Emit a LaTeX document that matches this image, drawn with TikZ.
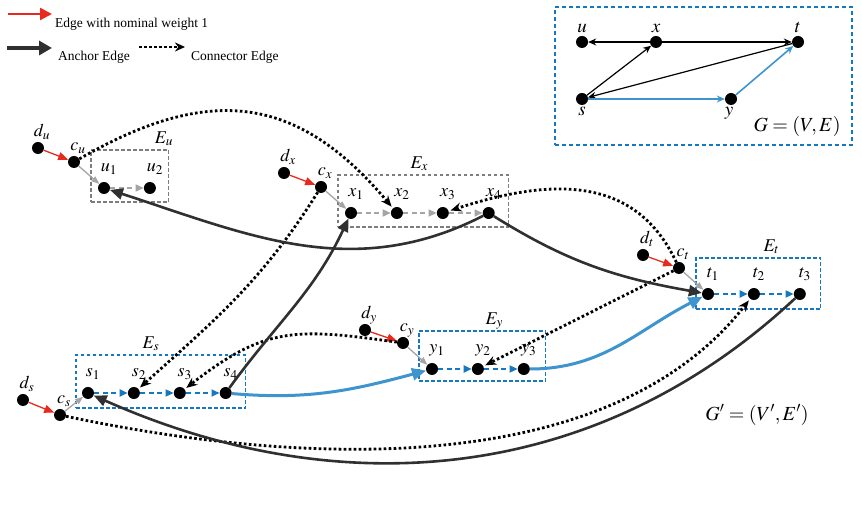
\documentclass[tikz,border=0pt]{standalone}
\usepackage{mathptmx}
\usepackage[no-math]{fontspec}
\setmainfont{Liberation Serif}
\usetikzlibrary{positioning,fit,backgrounds,calc,arrows.meta}

\definecolor{nomred}{RGB}{232,42,30}
\definecolor{chaingray}{RGB}{165,165,165}
\definecolor{boxgray}{RGB}{125,125,125}
\definecolor{pathblue}{RGB}{22,120,192}
\definecolor{thickblue}{RGB}{62,148,207}
\definecolor{anchorgray}{RGB}{48,48,48}

\tikzset{vdot/.style={circle,fill=black,inner sep=0pt,minimum size=12pt},
         nomedge/.style={draw=nomred,line width=1.3pt,-{Triangle[length=10pt,width=8pt]}},
         enteredge/.style={draw=chaingray,line width=1.3pt,-{Triangle[length=8pt,width=6pt]}},
         gchain/.style={draw=chaingray,line width=1.6pt,dash pattern=on 5pt off 3.5pt,
                        -{Triangle[length=8pt,width=7pt]}},
         bchain/.style={draw=pathblue,line width=1.8pt,dash pattern=on 5pt off 3.5pt,
                        -{Triangle[length=8pt,width=7pt]}},
         anchoredge/.style={draw=anchorgray,line width=2.6pt,-{Triangle[length=13pt,width=11pt]}},
         bluethick/.style={draw=thickblue,line width=3pt,-{Triangle[length=14pt,width=12pt]}},
         connedge/.style={draw=black,line width=2.8pt,dash pattern=on 2.6pt off 2.4pt,
                          -{Stealth[length=11pt,width=9pt]},shorten >=2pt},
         gbox/.style={draw=boxgray,line width=1.1pt,dash pattern=on 3.5pt off 2.5pt,inner sep=0pt},
         bbox/.style={draw=pathblue,line width=1.1pt,dash pattern=on 3.5pt off 2.5pt,inner sep=0pt},
         olab/.style={xshift=4pt,yshift=5pt},
         ilab/.style={xshift=5pt,yshift=10pt},
         elab/.style={yshift=6pt},
         legtxt/.style={anchor=west,inner sep=0pt,font=\fontsize{13.5}{15}\selectfont}}

\begin{document}
\begin{tikzpicture}[x=1pt,y=1pt,
every label/.append style={font=\fontsize{18}{18}\selectfont,inner sep=0pt,text depth=0pt}]
\useasboundingbox (0,0) rectangle (862,527);

% legend
\coordinate (lr1) at (8,513);
\coordinate (lr2) at (52,513);
\coordinate (la1) at (7,479);
\coordinate (la2) at (52,479);
\coordinate (lc1) at (139,480);
\coordinate (lc2) at (185,480);
\draw[nomedge,line width=2.4pt,-{Triangle[length=12pt,width=12pt]}] (lr1) -- (lr2);
\draw[anchoredge,line width=3.5pt,-{Triangle[length=13pt,width=14pt]}] (la1) -- (la2);
\draw[connedge,shorten >=0pt,-{Stealth[length=10pt,width=9pt]}] (lc1) -- (lc2);
\node[legtxt] (ltr) at (55,503) {Edge with nominal weight 1};
\node[legtxt] (lta) at (58,470) {Anchor Edge};
\node[legtxt] (ltc) at (191,470) {Connector Edge};

% original graph G
\node[vdot,label={[yshift=3pt,font=\fontsize{19}{19}\selectfont]above:$u$}] (u) at (582,485) {};
\node[vdot,label={[yshift=3pt,font=\fontsize{19}{19}\selectfont]above:$x$}] (x) at (656,485) {};
\node[vdot,label={[yshift=3pt,font=\fontsize{19}{19}\selectfont]above:$t$}] (t) at (798,485) {};
\node[vdot,label={[yshift=-2pt,font=\fontsize{19}{19}\selectfont]below:$s$}] (s) at (582,428) {};
\node[vdot,label={[yshift=-2pt,xshift=-2pt,font=\fontsize{19}{19}\selectfont]below:$y$}] (y) at (731,428) {};
\draw[draw=black,line width=1.2pt,-{Stealth[length=8pt,width=7pt]}] (x) -- (u);
\draw[draw=black,line width=1.2pt,-{Stealth[length=8pt,width=7pt]}] (x) -- (t);
\draw[draw=black,line width=1.2pt,-{Stealth[length=8pt,width=7pt]}] (s) -- (x);
\draw[draw=black,line width=1.2pt,-{Stealth[length=8pt,width=7pt]}] (t) -- (s);
\draw[draw=thickblue,line width=1.6pt,-{Stealth[length=8pt,width=7pt]}] (s) -- (y);
\draw[draw=thickblue,line width=1.6pt,-{Stealth[length=8pt,width=7pt]}] (y) -- (t);
\node[font=\fontsize{20}{22}\selectfont] (Gname) at (797,400) {$G=(V,E)$};
\node[bbox,line width=1.8pt,dash pattern=on 4pt off 3pt,fit={(555,382) (852,520)}] (Gbox) {};

% expanded graph G'
\node[vdot,label={[olab]above:$d_u$}] (du) at (38,379) {};
\node[vdot,label={[olab]above:$c_u$}] (cu) at (74,365) {};
\node[vdot,label={[ilab]above:$u_1$}] (u1) at (104,339) {};
\node[vdot,label={[ilab]above:$u_2$},right=33.5pt of u1] (u2) {};

\node[vdot,label={[olab]above:$d_x$}] (dx) at (284,354) {};
\node[vdot,label={[olab]above:$c_x$}] (cx) at (321,340) {};
\node[vdot,label={[ilab]above:$x_1$}] (x1) at (351,314) {};
\node[vdot,label={[ilab]above:$x_2$},right=33.5pt of x1] (x2) {};
\node[vdot,label={[ilab]above:$x_3$},right=33.5pt of x2] (x3) {};
\node[vdot,label={[ilab]above:$x_4$},right=33.5pt of x3] (x4) {};

\node[vdot,label={[olab]above:$d_t$}] (dt) at (643,272) {};
\node[vdot,label={[olab]above:$c_t$}] (ct) at (679,259) {};
\node[vdot,label={[ilab]above:$t_1$}] (t1) at (708,233) {};
\node[vdot,label={[ilab]above:$t_2$},right=33.5pt of t1] (t2) {};
\node[vdot,label={[ilab]above:$t_3$},right=33.5pt of t2] (t3) {};

\node[vdot,label={[olab]above:$d_y$}] (dy) at (365,197) {};
\node[vdot,label={[olab]above:$c_y$}] (cy) at (403,184) {};
\node[vdot,label={[ilab]above:$y_1$}] (y1) at (432,158) {};
\node[vdot,label={[ilab]above:$y_2$},right=33.5pt of y1] (y2) {};
\node[vdot,label={[ilab]above:$y_3$},right=33.5pt of y2] (y3) {};

\node[vdot,label={[olab]above:$d_s$}] (ds) at (23,127) {};
\node[vdot,label={[olab]above:$c_s$}] (cs) at (60,112) {};
\node[vdot,label={[ilab]above:$s_1$}] (s1) at (88,134) {};
\node[vdot,label={[ilab]above:$s_2$},right=33.5pt of s1] (s2) {};
\node[vdot,label={[ilab]above:$s_3$},right=33.5pt of s2] (s3) {};
\node[vdot,label={[ilab]above:$s_4$},right=33.5pt of s3] (s4) {};

\begin{scope}[on background layer]
\node[gbox,fit={($(u1)+(-13,38)$) ($(u2)+(19,-14)$)},label={[elab,xshift=34pt]above:$E_u$}] (Eu) {};
\node[gbox,fit={($(x1)+(-13,38)$) ($(x4)+(20,-14)$)},label={[elab,xshift=-4pt]above:$E_x$}] (Ex) {};
\node[bbox,fit={($(t1)+(-12,36)$) ($(t3)+(21,-15)$)},label={[elab,xshift=13pt]above:$E_t$}] (Et) {};
\node[bbox,fit={($(y1)+(-13,38)$) ($(y3)+(22,-12)$)},label={[elab,xshift=12pt]above:$E_y$}] (Ey) {};
\node[bbox,fit={($(s1)+(-12,38)$) ($(s4)+(20,-15)$)},label={[elab,xshift=-10pt]above:$E_s$}] (Es) {};
\end{scope}

\foreach \V in {u,x,t,y,s}
{\draw[nomedge] (d\V) -- (c\V);
 \draw[enteredge] (c\V) -- (\V1);}

\draw[gchain] (u1) -- (u2);
\draw[gchain] (x1) -- (x2);
\draw[gchain] (x2) -- (x3);
\draw[gchain] (x3) -- (x4);
\draw[bchain] (t1) -- (t2);
\draw[bchain] (t2) -- (t3);
\draw[bchain] (y1) -- (y2);
\draw[bchain] (y2) -- (y3);
\draw[bchain] (s1) -- (s2);
\draw[bchain] (s2) -- (s3);
\draw[bchain] (s3) -- (s4);

\draw[connedge] (cu) to[out=30,in=130,looseness=1.2] (x2);
\draw[connedge] (cx) to[out=238,in=42] (s2);
\draw[connedge] (ct) to[out=115,in=18,looseness=1.1] (x3);
\draw[connedge] (ct) -- (y2);
\draw[connedge] (cy) to[out=172,in=38,looseness=1.2] (s3);
\draw[connedge] (cs) to[out=-12,in=232,looseness=0.86] (t2);

\draw[anchoredge] (x4) to[out=207,in=-18] (u1);
\draw[anchoredge] (x4) to[out=-32,in=170] (t1);
\draw[anchoredge] (s4) to[out=54,in=245] (x1);
\draw[anchoredge] (t3) to[out=223,in=-24,looseness=0.98] (s1);
\draw[bluethick] (s4) to[out=-5,in=195] (y1);
\draw[bluethick] (y3) to[out=0,in=207] (t1);

\node[font=\fontsize{20}{22}\selectfont] (Gpname) at (757,112) {$G'=(V',E')$};
\end{tikzpicture}
\end{document}
